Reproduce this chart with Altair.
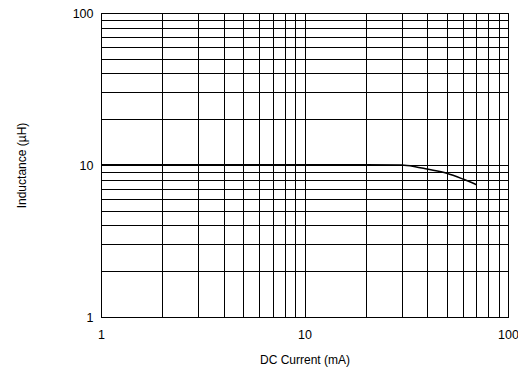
import altair as alt
import pandas as pd

current_ma = [1, 2, 5, 10, 20, 30, 35, 40, 50, 60, 70]
inductance_uh = [10.05, 10.05, 10.05, 10.05, 10.05, 10.0, 9.75, 9.4, 8.82, 8.08, 7.42]

x_grid = [1, 2, 3, 4, 5, 6, 7, 8, 9, 10, 20, 30, 40, 50, 60, 70, 80, 90, 100]
y_grid = [1, 2, 3, 4, 5, 6, 7, 8, 9, 10, 20, 30, 40, 50, 60, 70, 80, 90, 100]
major = [1, 10, 100]

df = pd.DataFrame({"current": current_ma, "inductance": inductance_uh})

label_expr = "(datum.value == 1 || datum.value == 10 || datum.value == 100) ? format(datum.value, 'd') : ''"
FONT = "Liberation Sans"

chart = alt.Chart(df).mark_line(color="black", strokeWidth=1.5, interpolate="monotone").encode(
    x=alt.X("current:Q",
            scale=alt.Scale(type="log", domain=[1, 100], nice=False),
            axis=alt.Axis(values=x_grid, labelExpr=label_expr, title="DC Current (mA)",
                          ticks=False, labelPadding=11, labelOverlap=False, labelBound=False,
                          labelFlush=False, titlePadding=14)),
    y=alt.Y("inductance:Q",
            scale=alt.Scale(type="log", domain=[1, 100], nice=False),
            axis=alt.Axis(values=y_grid, labelExpr=label_expr, title="Inductance (µH)",
                          ticks=False, labelPadding=8, labelOverlap=False, labelBound=False,
                          labelFlush=False, titlePadding=44)),
).properties(
    width=407, height=304,
    autosize=alt.AutoSizeParams(type="none"),
    padding={"left": 93, "top": 5, "right": 10, "bottom": 50},
).configure_axis(
    grid=True, gridColor="black", gridOpacity=1, gridWidth=1,
    domainColor="black", domainWidth=1,
    labelFont=FONT, labelFontSize=12.5, labelColor="black",
    titleFont=FONT, titleFontSize=12, titleFontWeight="normal", titleColor="black",
).configure_view(stroke="black", strokeWidth=1)

chart.save("out.html", embed_options={"renderer": "svg", "actions": False})
